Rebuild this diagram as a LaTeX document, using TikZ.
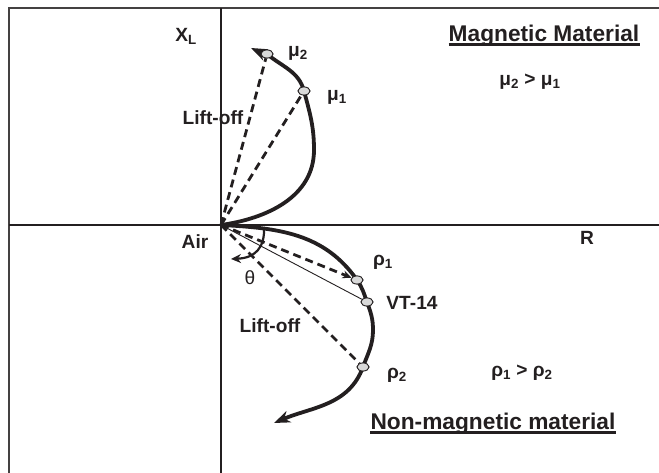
\documentclass[tikz,border=0pt]{standalone}
\usepackage{fontspec}
\setmainfont{Liberation Sans}
\usetikzlibrary{arrows.meta,shapes.geometric}
\definecolor{ink}{RGB}{35,31,32}
\begin{document}
\begin{tikzpicture}[x=1bp,y=1bp,
 lbl/.style={font=\fontsize{19.2}{21}\selectfont\bfseries, text=ink, inner sep=0},
 ttl/.style={font=\fontsize{22.8}{25}\selectfont\bfseries, text=ink, inner sep=0, anchor=base},
 axis/.style={line width=2bp, draw=ink},
 curve/.style={line width=3.8bp, draw=ink},
 dsh/.style={line width=2.8bp, draw=ink, dash pattern=on 8bp off 5bp},
 pt/.style={ellipse, draw=ink, fill=gray!30, line width=0.8bp, minimum width=12bp, minimum height=8bp, inner sep=0},
 bigtip/.style={-{Stealth[length=16bp,width=12bp,inset=5bp]}},
 ]
\useasboundingbox (0,0) rectangle (659,473);
% frame and axes
\draw[axis, draw=ink!85] (9,0) -- (9,465) -- (659,465);
\draw[axis] (221,0) -- (221,465);
\draw[axis] (9,248) -- (659,248);
% key points
\coordinate (O) at (221,248);
\coordinate (r1) at (314,323);
\coordinate (mu1) at (304,382);
\coordinate (mu2) at (267,419);
\coordinate (tu) at (251,425);
\coordinate (rho1) at (357,193);
\coordinate (vt) at (367,171);
\coordinate (r2) at (373,143);
\coordinate (rho2) at (363,106);
\coordinate (tl) at (274,50);
\coordinate (th0) at (264,246);
\coordinate (th1) at (231,214);
% dots
\node[pt] (dmu1) at (mu1) {};
\node[pt] (dmu2) at (mu2) {};
\node[pt] (drho1) at (rho1) {};
\node[pt] (dvt) at (vt) {};
\node[pt] (drho2) at (rho2) {};
% dashed and thin lines
\draw[dsh] (O) -- (dmu2);
\draw[dsh] (O) -- (dmu1);
\draw[dsh, -{Stealth[length=9bp,width=8bp]}] (O) -- (drho1);
\draw[dsh] (O) -- (drho2);
\draw[line width=0.9bp, draw=ink] (O) -- (dvt);
% curves
\draw[curve, bigtip] (O) to[out=8,in=-90] (r1) to[out=90,in=-75] (mu1)
  to[out=105,in=-40] (mu2) to[out=140,in=-25] (tu);
\draw[curve, bigtip] (O) to[out=-3,in=125] (rho1) to[out=-55,in=110] (vt)
  to[out=-70,in=90] (r2) to[out=-90,in=70] (rho2) to[out=-110,in=23] (tl);
% theta arc
\draw[line width=2.2bp, draw=ink, -{Stealth[length=10bp,width=9bp]}] (th0) .. controls (265,225) and (255,215) .. (th1);
% redraw dots on top
\node[pt] at (mu1) {};
\node[pt] at (mu2) {};
\node[pt] at (rho1) {};
\node[pt] at (vt) {};
\node[pt] at (rho2) {};
% labels
\node[lbl] (xl) at (186,437) {X\textsubscript{L}};
\node[lbl] (lmu2) at (298,420) {μ\textsubscript{2}};
\node[lbl] (lmu1) at (337,376) {μ\textsubscript{1}};
\node[lbl] (lift1) at (213,355) {Lift-off};
\node[ttl] (mag) at (544,431) {Magnetic Material};
\draw[line width=3bp, draw=ink] ([yshift=-2.5bp]mag.base west) -- ([yshift=-2.5bp]mag.base east);
\node[lbl] (ineq1) at (530,391) {μ\textsubscript{2} > μ\textsubscript{1}};
\node[lbl] (R) at (587,235) {R};
\node[lbl] (air) at (195,231) {Air};
\node[lbl, font=\fontsize{19.2}{21}\selectfont] (th) at (250,195) {θ};
\node[lbl] (lrho1) at (383,211) {ρ\textsubscript{1}};
\node[lbl] (vtl) at (412,170) {VT-14};
\node[lbl] (lift2) at (270,147) {Lift-off};
\node[lbl] (lrho2) at (397,98) {ρ\textsubscript{2}};
\node[lbl] (ineq2) at (522,100) {ρ\textsubscript{1} > ρ\textsubscript{2}};
\node[ttl] (nonmag) at (493,43) {Non-magnetic material};
\draw[line width=3bp, draw=ink] ([yshift=-2.5bp]nonmag.base west) -- ([yshift=-2.5bp]nonmag.base east);
\end{tikzpicture}
\end{document}
